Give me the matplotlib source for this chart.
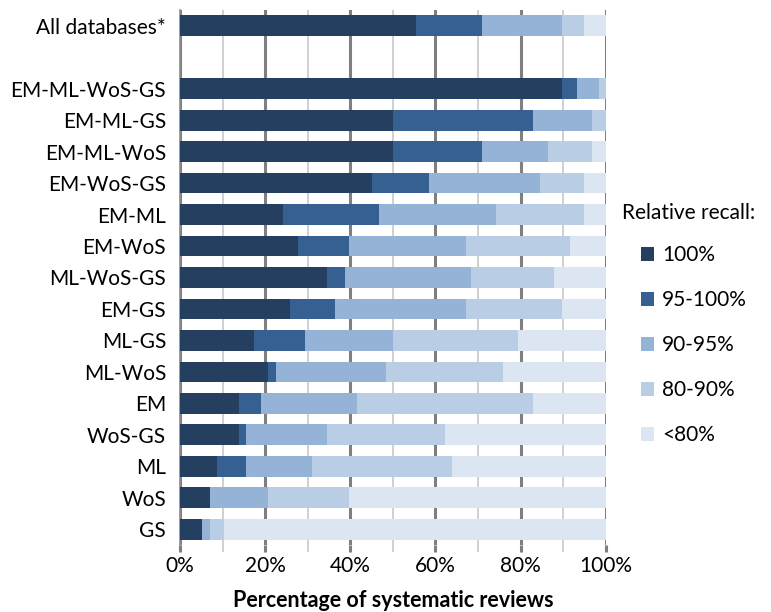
import numpy as np
import matplotlib
matplotlib.use("Agg")
import matplotlib.pyplot as plt
from matplotlib.patches import Patch

plt.rcParams['font.family'] = ['Lato', 'DejaVu Sans']

# categories top to bottom ("" is the empty gap row)
categories = ['All databases*', '', 'EM-ML-WoS-GS', 'EM-ML-GS', 'EM-ML-WoS',
              'EM-WoS-GS', 'EM-ML', 'EM-WoS', 'ML-WoS-GS', 'EM-GS', 'ML-GS',
              'ML-WoS', 'EM', 'WoS-GS', 'ML', 'WoS', 'GS']

# percentage of systematic reviews per relative recall class
recall_100 = [55.4, 0, 89.7, 50.1, 50.1, 45.0, 24.3, 27.8, 34.6, 25.9, 17.4,
              20.7, 13.9, 13.9, 8.7, 7.0, 5.2]
recall_95_100 = [15.5, 0, 3.6, 32.8, 20.8, 13.6, 22.4, 12.0, 4.1, 10.4, 12.0,
                 1.9, 5.2, 1.7, 6.9, 0.0, 0.0]
recall_90_95 = [18.8, 0, 5.1, 14.0, 15.6, 25.9, 27.5, 27.5, 29.7, 31.0, 20.7,
                25.7, 22.4, 19.0, 15.5, 13.7, 1.8]
recall_80_90 = [5.2, 0, 1.6, 3.1, 10.4, 10.4, 20.7, 24.3, 19.4, 22.4, 29.2,
                27.7, 41.4, 27.6, 32.7, 19.1, 3.3]
recall_lt80 = [5.1, 0, 0.0, 0.0, 3.1, 5.1, 5.1, 8.4, 12.2, 10.3, 20.7,
               24.0, 17.1, 37.8, 36.2, 60.2, 89.7]

series = [recall_100, recall_95_100, recall_90_95, recall_80_90, recall_lt80]
series_names = ['100%', '95-100%', '90-95%', '80-90%', '<80%']
colors = ['#243f60', '#376092', '#95b3d7', '#b9cde5', '#dce6f2']

fig = plt.figure(figsize=(7.71, 6.12), dpi=100)
ax = fig.add_axes([0.2335, 0.1095, 0.552, 0.8742])

y = np.arange(len(categories))
left = np.zeros(len(categories))
for vals, col in zip(series, colors):
    vals = np.array(vals)
    ax.barh(y, vals, left=left, height=0.66, color=col, zorder=3)
    left += vals

ax.set_xlim(0, 100)
ax.set_ylim(len(categories) - 0.5, -0.5)
ax.set_yticks(y)
ax.set_yticklabels(categories, fontsize=15)
ax.set_xticks(np.arange(0, 101, 20))
ax.set_xticklabels(['%d%%' % v for v in range(0, 101, 20)], fontsize=15)
ax.set_xticks(np.arange(10, 100, 20), minor=True)

# gridlines: darker at 20% steps, lighter in between
ax.grid(axis='x', which='major', color='#7f7f7f', linewidth=2.2, zorder=0)
ax.grid(axis='x', which='minor', color='#c8c8c8', linewidth=1.2, zorder=0)
ax.tick_params(axis='x', which='major', length=5, width=2.2, color='#7f7f7f', pad=3)
ax.tick_params(axis='x', which='minor', length=5, width=1.2, color='#c8c8c8')
ax.tick_params(axis='y', length=0, pad=10)

for side in ['top', 'right', 'bottom']:
    ax.spines[side].set_visible(False)
ax.spines['left'].set_color('#8c8c8c')
ax.spines['left'].set_linewidth(1.2)

ax.set_xlabel('Percentage of systematic reviews', fontsize=15.5, fontweight='bold', labelpad=10)

fig.text(0.8067, 0.652, 'Relative recall:', fontsize=15, va='center', ha='left')
handles = [Patch(facecolor=c, edgecolor='none') for c in colors]
leg = fig.legend(handles, series_names, loc='upper left',
                 bbox_to_anchor=(0.818, 0.616), frameon=False, fontsize=15,
                 handlelength=0.6, handleheight=0.6,
                 handletextpad=0.4, labelspacing=1.2, borderpad=0)

fig.savefig('out.png', dpi=100)
